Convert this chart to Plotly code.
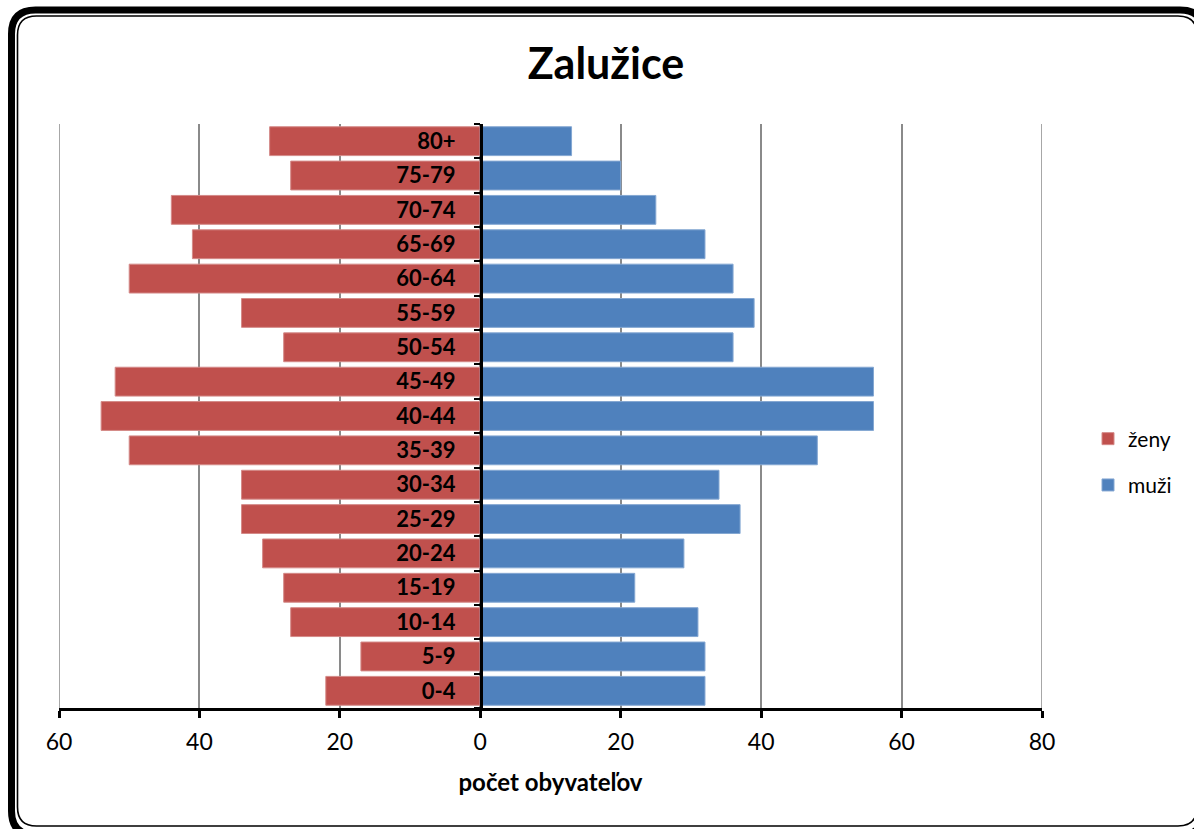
import plotly.graph_objects as go

# ---- data ----
age_groups = ["0-4", "5-9", "10-14", "15-19", "20-24", "25-29", "30-34", "35-39",
              "40-44", "45-49", "50-54", "55-59", "60-64", "65-69", "70-74", "75-79", "80+"]
zeny = [22, 17, 27, 28, 31, 34, 34, 50, 54, 52, 28, 34, 50, 41, 44, 27, 30]
muzi = [32, 32, 31, 22, 29, 37, 34, 48, 56, 56, 36, 39, 36, 32, 25, 20, 13]
x_tick_values = [-60, -40, -20, 0, 20, 40, 60, 80]
x_tick_labels = ["60", "40", "20", "0", "20", "40", "60", "80"]
title_text = "Zalužice"
x_title = "počet obyvateľov"

# ---- layout geometry ----
W, H = 1194, 829
L, R, T, B = 59, 152, 124, 121
PW = W - L - R
PH = H - T - B


def px(x):
    return (x - L) / PW


def py(y):
    return (H - B - y) / PH


def rrect(x0, y0, x1, y1, r):
    pts = [
        ("M", (x0 + r, y0)), ("L", (x1 - r, y0)),
        ("Q", (x1, y0), (x1, y0 + r)), ("L", (x1, y1 - r)),
        ("Q", (x1, y1), (x1 - r, y1)), ("L", (x0 + r, y1)),
        ("Q", (x0, y1), (x0, y1 - r)), ("L", (x0, y0 + r)),
        ("Q", (x0, y0), (x0 + r, y0)),
    ]
    s = ""
    for p in pts:
        cmd = p[0]
        coords = " ".join(f"{px(a):.5f},{py(b):.5f}" for a, b in p[1:])
        s += f"{cmd} {coords} "
    return s + "Z"


FONT = "Lato, 'Open Sans', sans-serif"
GRID = "#8A8A8A"

fig = go.Figure()
fig.add_trace(go.Bar(
    y=age_groups, x=[-v for v in zeny], orientation="h", name="ženy",
    legendgroup="f",
    marker=dict(color="#C0504D", line=dict(color="#D48A88", width=1)),
    customdata=zeny, hovertemplate="%{y}: %{customdata}<extra>ženy</extra>",
))
fig.add_trace(go.Bar(
    y=age_groups, x=muzi, orientation="h", name="muži",
    legendgroup="m",
    marker=dict(color="#4F81BD", line=dict(color="#84A7D2", width=1)),
    hovertemplate="%{y}: %{x}<extra>muži</extra>",
))

shapes = [
    dict(type="line", xref="x", yref="paper", x0=v, x1=v, y0=0, y1=1,
         layer="below", line=dict(color=GRID, width=1.5))
    for v in (x_tick_values[0], x_tick_values[-1])
]
shapes += [
    dict(type="path", xref="paper", yref="paper", layer="above",
         path=rrect(11.5, 10, 1204, 835, 24),
         line=dict(color="black", width=7), fillcolor="rgba(0,0,0,0)"),
    dict(type="path", xref="paper", yref="paper", layer="above",
         path=rrect(17.5, 16, 1197, 826, 19),
         line=dict(color="black", width=1.6), fillcolor="rgba(0,0,0,0)"),
]

fig.update_layout(
    width=W, height=H,
    margin=dict(l=L, r=R, t=T, b=B, pad=0),
    paper_bgcolor="white", plot_bgcolor="white",
    barmode="overlay", bargap=0.16,
    font=dict(family=FONT, color="black"),
    title=dict(text=title_text, x=606 / W, xanchor="center",
               y=1 - 64 / H, yanchor="middle",
               font=dict(family=FONT, size=43, weight="bold", color="black")),
    legend=dict(x=px(1088), y=py(462), xanchor="left", yanchor="middle",
                font=dict(family=FONT, size=21, color="black"),
                traceorder="grouped", tracegroupgap=16,
                bgcolor="rgba(0,0,0,0)"),
    xaxis=dict(
        range=[-60, 80], tickvals=x_tick_values, ticktext=x_tick_labels,
        showgrid=True, gridcolor=GRID, gridwidth=1.5,
        zeroline=False,
        showline=True, linecolor="black", linewidth=2.5,
        ticks="outside", ticklen=7, tickwidth=2.5, tickcolor="black",
        ticklabelstandoff=5,
        tickfont=dict(family=FONT, size=23, color="black"),
        title=dict(text=x_title, standoff=20,
                   font=dict(family=FONT, size=24, weight="bold", color="black")),
        fixedrange=True,
    ),
    yaxis=dict(
        type="category", categoryorder="array", categoryarray=age_groups,
        anchor="free", position=px(481),
        showgrid=False, zeroline=False,
        showline=True, linecolor="black", linewidth=3,
        ticks="outside", ticklen=6, tickwidth=2, tickcolor="black",
        tickson="boundaries", ticklabelstandoff=20,
        tickfont=dict(family=FONT, size=22, weight="bold", color="black"),
        fixedrange=True,
    ),
    shapes=shapes,
)

fig.write_html("out.html", config={"displayModeBar": False},
               post_script="document.body.style.margin='0';")
